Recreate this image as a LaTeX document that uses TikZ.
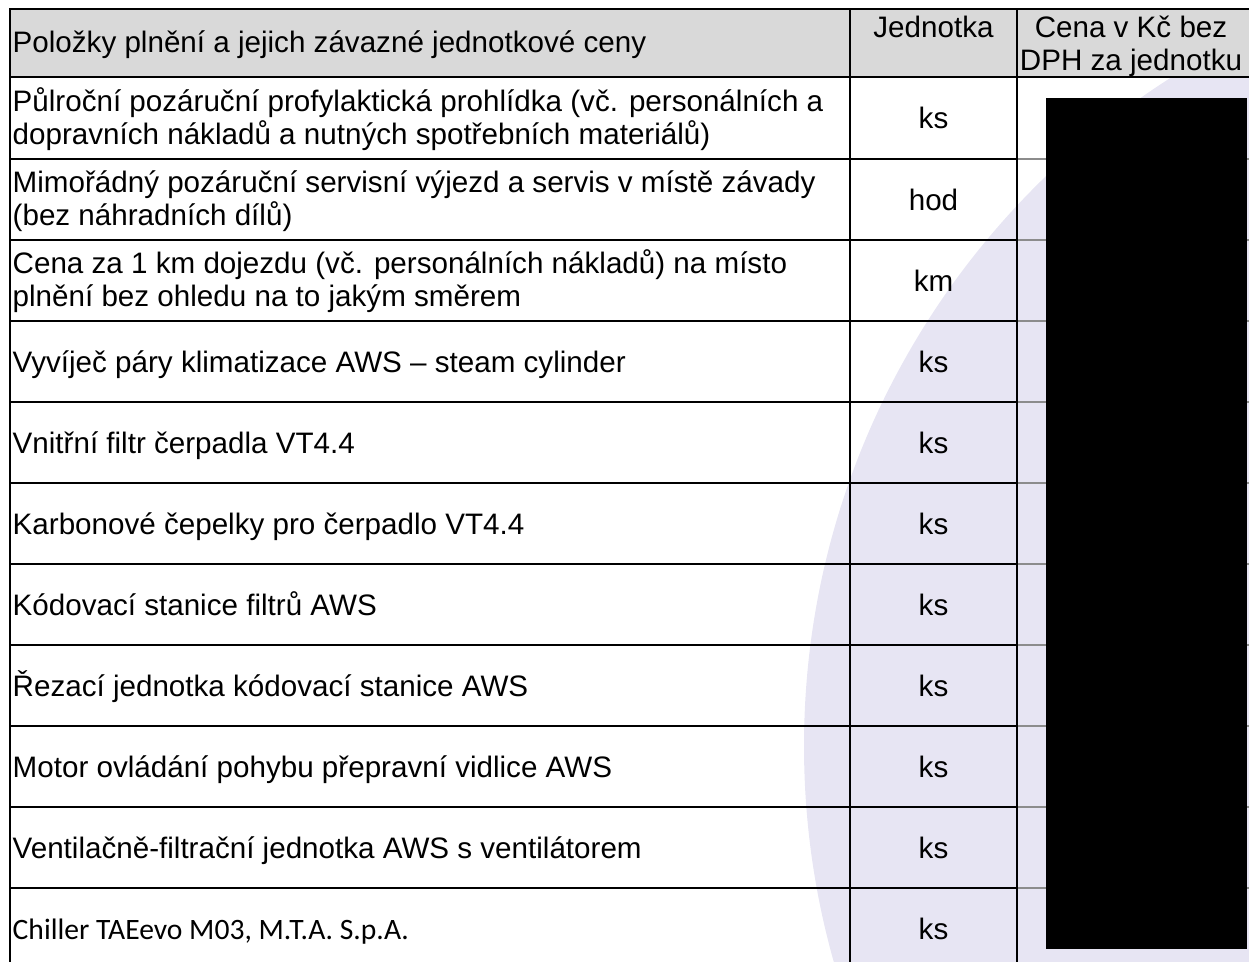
\documentclass[tikz,border=0pt]{standalone}
\usepackage{fontspec}
\setmainfont{Liberation Sans}
\newfontfamily\calibrifont{Carlito}
\definecolor{hdrgray}{RGB}{217,217,217}
\definecolor{lavender}{RGB}{231,229,243}
\definecolor{rulegray}{RGB}{140,140,140}
\begin{document}
\begin{tikzpicture}[x=1pt,y=-1pt,
  every node/.style={inner sep=0pt, font=\fontsize{29.6}{33.7}\selectfont},
  lefttext/.style={anchor=base west},
  ctext/.style={anchor=base},
  blackrule/.style={line width=2pt, black},
  thinrule/.style={line width=1.5pt, rulegray}]
\useasboundingbox (0,0) rectangle (1249,961);
% background watermark disc
\fill[lavender] (1596,746) circle (792pt);
% header fill
\fill[hdrgray] (10,9) rectangle (1249,77);

% header texts
\node[lefttext] (h1) at (12.5,52) {Položky plnění a jejich závazné jednotkové ceny};
\node[ctext] (h2) at (933.5,37) {Jednotka};
\node[ctext] (h3a) at (1131,37) {Cena v Kč bez};
\node[ctext] (h3b) at (1131,70) {DPH za jednotku};

% row 1
\node[lefttext] (r1a) at (12.5,111) {Půlroční pozáruční profylaktická prohlídka (vč. personálních a};
\node[lefttext] (r1b) at (12.5,144) {dopravních nákladů a nutných spotřebních materiálů)};
\node[ctext] (u1) at (933.5,128.5) {ks};
% row 2
\node[lefttext] (r2a) at (12.5,192) {Mimořádný pozáruční servisní výjezd a servis v místě závady};
\node[lefttext] (r2b) at (12.5,225) {(bez náhradních dílů)};
\node[ctext] (u2) at (933.5,210) {hod};
% row 3
\node[lefttext] (r3a) at (12.5,273) {Cena za 1 km dojezdu (vč. personálních nákladů) na místo};
\node[lefttext] (r3b) at (12.5,306) {plnění bez ohledu na to jakým směrem};
\node[ctext] (u3) at (933.5,291) {km};
% single-line rows
\node[lefttext] (r4) at (12.5,372) {Vyvíječ páry klimatizace AWS – steam cylinder};
\node[ctext] (u4) at (933.5,372) {ks};
\node[lefttext] (r5) at (12.5,453) {Vnitřní filtr čerpadla VT4.4};
\node[ctext] (u5) at (933.5,453) {ks};
\node[lefttext] (r6) at (12.5,534) {Karbonové čepelky pro čerpadlo VT4.4};
\node[ctext] (u6) at (933.5,534) {ks};
\node[lefttext] (r7) at (12.5,615) {Kódovací stanice filtrů AWS};
\node[ctext] (u7) at (933.5,615) {ks};
\node[lefttext] (r8) at (12.5,696) {Řezací jednotka kódovací stanice AWS};
\node[ctext] (u8) at (933.5,696) {ks};
\node[lefttext] (r9) at (12.5,777) {Motor ovládání pohybu přepravní vidlice AWS};
\node[ctext] (u9) at (933.5,777) {ks};
\node[lefttext] (r10) at (12.5,858) {Ventilačně-filtrační jednotka AWS s ventilátorem};
\node[ctext] (u10) at (933.5,858) {ks};
\node[lefttext, font=\calibrifont\fontsize{29.6}{33.7}\selectfont] (r11) at (12.5,939) {Chiller TAEevo M03, M.T.A. S.p.A.};
\node[ctext] (u11) at (933.5,939) {ks};

% grid lines
\draw[blackrule] (9,9) -- (1249,9);
\draw[blackrule] (9,77) -- (1249,77);
\foreach \yy in {159,240,321,402,483,564,645,726,807,888} {
  \draw[blackrule] (9,\yy) -- (1017,\yy);
  \draw[thinrule] (1017,\yy) -- (1249,\yy);
}
\draw[blackrule] (10,8) -- (10,970);
\draw[blackrule] (850,8) -- (850,970);
\draw[blackrule] (1017,8) -- (1017,970);

% redaction box
\fill[black] (1046,98) rectangle (1247,949);
\end{tikzpicture}
\end{document}
